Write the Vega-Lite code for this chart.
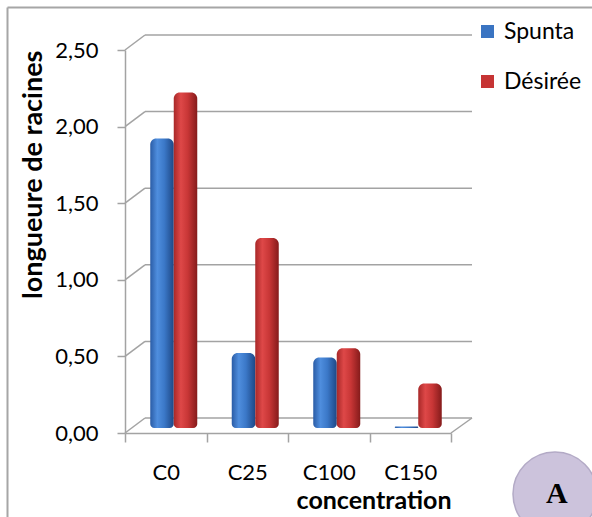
{
  "$schema": "https://vega.github.io/schema/vega-lite/v6.json",
  "width": 585,
  "height": 510,
  "autosize": {"type": "none"},
  "padding": {"left": 7, "top": 7, "right": 0, "bottom": 0},
  "background": "#ffffff",
  "config": {"view": {"stroke": null}, "font": "Lato"},
  "datasets": {
    "bars": [
      {"concentration": "C0", "variety": "Spunta", "value": 1.89},
      {"concentration": "C0", "variety": "Désirée", "value": 2.19},
      {"concentration": "C25", "variety": "Spunta", "value": 0.49},
      {"concentration": "C25", "variety": "Désirée", "value": 1.24},
      {"concentration": "C100", "variety": "Spunta", "value": 0.46},
      {"concentration": "C100", "variety": "Désirée", "value": 0.52},
      {"concentration": "C150", "variety": "Spunta", "value": 0.01},
      {"concentration": "C150", "variety": "Désirée", "value": 0.29}
    ],
    "grid": [{"v": 0}, {"v": 0.5}, {"v": 1}, {"v": 1.5}, {"v": 2}, {"v": 2.5}],
    "frame": [{"f": 0}],
    "badge": [{"label": "A"}]
  },
  "layer": [
    {
      "data": {"name": "frame"},
      "mark": {"type": "point", "opacity": 0},
      "encoding": {
        "x": {"field": "f", "type": "quantitative", "scale": {"domain": [0, 1], "range": [0, 585]},
              "axis": {"orient": "top", "domainColor": "#a6a6a6", "domainWidth": 2, "ticks": false, "labels": false, "grid": false, "title": null}},
        "y": {"field": "f", "type": "quantitative", "scale": {"domain": [0, 1], "range": [0, 510]},
              "axis": {"orient": "left", "domainColor": "#a6a6a6", "domainWidth": 2, "ticks": false, "labels": false, "grid": false, "title": null}}
      }
    },
    {
      "layer": [
        {
          "data": {"name": "bars"},
          "mark": {"type": "bar", "opacity": 0},
          "encoding": {
            "x": {"field": "concentration", "type": "nominal",
                  "scale": {"domain": ["C0", "C25", "C100", "C150"], "range": [118, 444], "paddingInner": 0, "paddingOuter": 0},
                  "axis": {"orient": "bottom", "offset": -84, "title": "concentration", "titleFont": "Lato", "titleFontSize": 25, "titleFontWeight": "bold", "titleColor": "#000",
                           "titleAnchor": "end", "titlePadding": 5,
                           "labelAngle": 0, "labelFont": "Lato", "labelFontSize": 22, "labelColor": "#000", "labelPadding": 20,
                           "tickBand": "extent", "tickSize": 9, "tickColor": "#a3a3a3", "tickWidth": 1.5,
                           "domainColor": "#a3a3a3", "domainWidth": 1.5, "grid": false}},
            "y": {"field": "value", "type": "quantitative", "stack": null,
                  "scale": {"domain": [0, 2.5], "range": [426, 43], "nice": false, "zero": true},
                  "axis": {"orient": "left", "offset": -118, "values": [0, 0.5, 1, 1.5, 2, 2.5],
                           "labelExpr": "replace(format(datum.value, '.2f'), '.', ',')",
                           "labelFont": "Lato", "labelFontSize": 22, "labelColor": "#000", "labelPadding": 19,
                           "tickSize": 8, "tickColor": "#a3a3a3", "tickWidth": 1.5,
                           "domainColor": "#a3a3a3", "domainWidth": 1.5, "grid": false,
                           "title": "longueure de racines", "titleFont": "Lato", "titleFontSize": 27, "titleFontWeight": "bold", "titleColor": "#000",
                           "titleAnchor": "end", "titlePadding": 7}},
            "color": {"field": "variety", "type": "nominal",
                      "scale": {"domain": ["Spunta", "Désirée"], "range": ["#3a74c2", "#c63434"]},
                      "legend": {"orient": "none", "legendX": 469, "legendY": 13, "title": null, "symbolType": "square", "symbolSize": 169, "symbolOpacity": 1,
                                 "labelFont": "Lato", "labelFontSize": 23, "labelColor": "#000", "labelOffset": 5, "rowPadding": 26, "padding": 0, "symbolStrokeWidth": 0}}
          }
        },
        {
          "data": {"name": "grid"},
          "mark": {"type": "rule", "color": "#a3a3a3", "strokeWidth": 1.5, "xOffset": 20, "x2Offset": 21, "yOffset": -15},
          "encoding": {
            "x": {"datum": "C0", "type": "nominal", "bandPosition": 0},
            "x2": {"datum": "C150", "bandPosition": 1},
            "y": {"field": "v", "type": "quantitative"}
          }
        },
        {
          "data": {"name": "grid"},
          "mark": {"type": "rule", "color": "#a3a3a3", "strokeWidth": 1.5, "x2Offset": 20, "y2Offset": -15},
          "encoding": {
            "x": {"datum": "C0", "type": "nominal", "bandPosition": 0},
            "x2": {"datum": "C0", "bandPosition": 0},
            "y": {"field": "v", "type": "quantitative"},
            "y2": {"field": "v"}
          }
        },
        {
          "data": {"name": "grid"},
          "transform": [{"filter": {"field": "v", "equal": 0}}],
          "mark": {"type": "rule", "color": "#a3a3a3", "strokeWidth": 1.5, "x2Offset": 21, "y2Offset": -15},
          "encoding": {
            "x": {"datum": "C150", "type": "nominal", "bandPosition": 1},
            "x2": {"datum": "C150", "bandPosition": 1},
            "y": {"field": "v", "type": "quantitative"},
            "y2": {"field": "v"}
          }
        }
      ]
    },
    {
      "data": {"name": "bars"},
      "encoding": {
        "x": {"field": "concentration", "type": "nominal", "axis": null,
              "scale": {"domain": ["C0", "C25", "C100", "C150"], "range": [126, 452], "paddingInner": 0, "paddingOuter": 0}},
        "xOffset": {"field": "variety", "type": "nominal", "scale": {"domain": ["Spunta", "Désirée"], "paddingInner": 0, "paddingOuter": 0.734}},
        "y": {"field": "value", "type": "quantitative", "axis": null, "stack": null,
              "scale": {"domain": [0, 2.5], "range": [421, 38], "nice": false, "zero": true}}
      },
      "layer": [
        {
          "transform": [{"filter": {"field": "variety", "equal": "Spunta"}}],
          "mark": {"type": "bar",
                   "cornerRadiusTopLeft": 6, "cornerRadiusTopRight": 6, "cornerRadiusBottomLeft": 4, "cornerRadiusBottomRight": 4,
                   "fill": {"gradient": "linear", "x1": 0, "y1": 0, "x2": 1, "y2": 0, "stops": [{"offset": 0, "color": "#2a5ca6"}, {"offset": 0.3, "color": "#4f8ede"}, {"offset": 0.6, "color": "#3b78c8"}, {"offset": 1, "color": "#1e4886"}]}}
        },
        {
          "transform": [{"filter": {"field": "variety", "equal": "Désirée"}}],
          "mark": {"type": "bar",
                   "cornerRadiusTopLeft": 6, "cornerRadiusTopRight": 6, "cornerRadiusBottomLeft": 4, "cornerRadiusBottomRight": 4,
                   "fill": {"gradient": "linear", "x1": 0, "y1": 0, "x2": 1, "y2": 0, "stops": [{"offset": 0, "color": "#a82828"}, {"offset": 0.3, "color": "#de4848"}, {"offset": 0.6, "color": "#c83636"}, {"offset": 1, "color": "#851b1b"}]}}
        }
      ]
    },
    {
      "data": {"name": "badge"},
      "mark": {"type": "point", "filled": true, "color": "#ccc3dc", "stroke": "#b3aac6", "strokeWidth": 1, "opacity": 0},
      "encoding": {
        "shape": {"field": "label", "type": "nominal", "scale": {"range": ["circle"]},
                  "legend": {"orient": "none", "legendX": 505, "legendY": 444, "title": null, "symbolSize": 7056, "symbolOpacity": 1,
                             "labelFont": "Liberation Serif", "labelFontSize": 30, "labelFontWeight": "bold", "labelColor": "#000", "labelOffset": -52, "padding": 0}}
      }
    }
  ],
  "resolve": {"scale": {"x": "independent", "y": "independent"}}
}
